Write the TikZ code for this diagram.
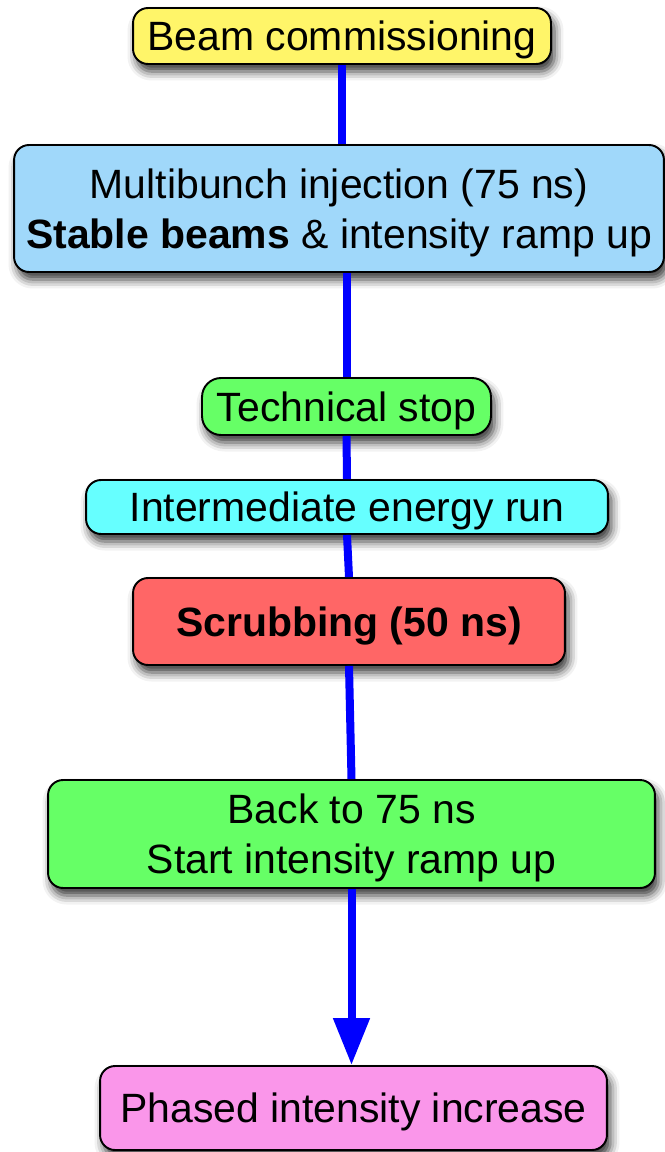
\documentclass[tikz,border=0pt]{standalone}
\usepackage{fontspec}
\setmainfont{Liberation Sans}
\usetikzlibrary{arrows.meta,shadows.blur}

\definecolor{commyellow}{RGB}{255,245,105}
\definecolor{injblue}{RGB}{160,216,250}
\definecolor{stopgreen}{RGB}{102,255,102}
\definecolor{runcyan}{RGB}{102,255,255}
\definecolor{scrubred}{RGB}{255,102,102}
\definecolor{rampink}{RGB}{250,150,234}

\begin{document}
\begin{tikzpicture}[x=0.02cm,y=-0.02cm,
    stage/.style={draw=black,line width=1.1pt,rounded corners=0.3cm,align=center,inner sep=0pt,
        font=\fontsize{23.3}{28.6}\selectfont,text depth=0pt,
        blur shadow={shadow xshift=0.07cm,shadow yshift=-0.15cm,shadow blur radius=0.18cm,shadow opacity=80}},
    flow/.style={draw=blue,line width=0.16cm}]
    \useasboundingbox (0,0) rectangle (665,1152);

    \node[stage,fill=commyellow,minimum width=8.36cm,minimum height=1.12cm] (comm) at (342,36) {Beam commissioning};
    \node[stage,fill=injblue,minimum width=13.0cm,minimum height=2.54cm] (inj) at (339,208.5)
        {Multibunch injection (75 ns)\\\textbf{Stable beams} \& intensity ramp up};
    \node[stage,fill=stopgreen,minimum width=5.78cm,minimum height=1.14cm,rounded corners=0.38cm] (stop) at (346.5,406.5) {Technical stop};
    \node[stage,fill=runcyan,minimum width=10.44cm,minimum height=1.08cm] (inter) at (347,507) {Intermediate energy run};
    \node[stage,fill=scrubred,minimum width=8.64cm,minimum height=1.74cm] (scrub) at (349,621.5) {\textbf{Scrubbing (50 ns)}};
    \node[stage,fill=stopgreen,minimum width=12.14cm,minimum height=2.16cm] (back) at (351.5,834)
        {Back to 75 ns\\Start intensity ramp up};
    \node[stage,fill=rampink,minimum width=10.14cm,minimum height=1.68cm] (phase) at (353.5,1108) {Phased intensity increase};

    % connectors
    \draw[flow] (comm.south) -- (comm.south |- inj.north);
    \draw[flow] (inj.south -| stop.north) -- (stop.north);
    \draw[flow] (stop.south) -- (inter.north);
    \draw[flow] (inter.south) -- (scrub.north);
    \draw[flow] (scrub.south) -- (back.north);
    \draw[flow,-{Triangle[width=0.7cm,length=0.94cm]}] (back.south) -- (back.south |- phase.north);
\end{tikzpicture}
\end{document}
